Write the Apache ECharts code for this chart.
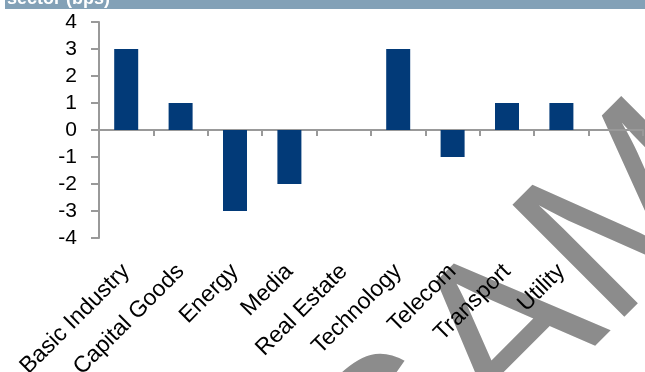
<!DOCTYPE html>
<html>
<head>
<meta charset="utf-8">
<script src="https://cdn.jsdelivr.net/npm/echarts@6/dist/echarts.min.js"></script>
<style>
html,body{margin:0;padding:0;background:#fff;}
#chart{width:645px;height:372px;}
</style>
</head>
<body>
<div id="chart"></div>
<script>
var categories = ['Basic Industry','Capital Goods','Energy','Media','Real Estate','Technology','Telecom','Transport','Utility',''];
var values = [3, 1, -3, -2, 0, 3, -1, 1, 1, null];
var yTicks = {min: -4, max: 4, interval: 1};
var titleText = 'sector (bps)';
var watermarkText = 'SAMPLE';

var FONT = "'Liberation Sans', Arial, sans-serif";
var chart = echarts.init(document.getElementById('chart'), null, {renderer: 'canvas'});
var WM = 230;
chart.setOption({
  animation: false,
  backgroundColor: '#ffffff',
  grid: {left: 99, right: 2, top: 22, bottom: 134, containLabel: false, outerBoundsMode: 'none'},
  graphic: [
    {type: 'rect', left: 5, top: 0, z: 100, shape: {width: 640, height: 9}, style: {fill: '#83A1B7'}},
    {type: 'text', x: 7, y: -1, z: 101, style: {text: titleText, fill: '#ffffff', font: 'bold 18px ' + FONT, verticalAlign: 'middle', align: 'left'}},
    {type: 'text', x: 406, y: 559, rotation: Math.PI / 4, z: -10,
     style: {text: watermarkText, fill: '#8c8c8c', font: WM + 'px ' + FONT, verticalAlign: 'middle', align: 'left', y: -0.35 * WM}}
  ],
  xAxis: [
    {type: 'category', data: categories, boundaryGap: true,
     axisLine: {onZero: true, lineStyle: {color: '#999999', width: 2}},
     axisTick: {show: true, inside: false, length: 6, interval: 0, lineStyle: {color: '#999999', width: 2}},
     axisLabel: {show: false}, splitLine: {show: false}},
    {type: 'category', data: categories, position: 'bottom', boundaryGap: true,
     axisLine: {show: false}, axisTick: {show: false}, splitLine: {show: false},
     axisLabel: {show: true, interval: 0, rotate: 45, margin: 30, color: '#000000', fontSize: 23, fontFamily: FONT}}
  ],
  yAxis: {
    type: 'value', min: yTicks.min, max: yTicks.max, interval: yTicks.interval,
    axisLine: {show: true, lineStyle: {color: '#999999', width: 2}},
    axisTick: {show: true, inside: false, length: 8, lineStyle: {color: '#999999', width: 2}},
    axisLabel: {margin: 22, color: '#000000', fontSize: 21, fontFamily: FONT},
    splitLine: {show: false}
  },
  series: [{
    type: 'bar', xAxisIndex: 0, data: values, barWidth: 24,
    itemStyle: {color: '#023A78', borderWidth: 0}
  }]
});
</script>
</body>
</html>
